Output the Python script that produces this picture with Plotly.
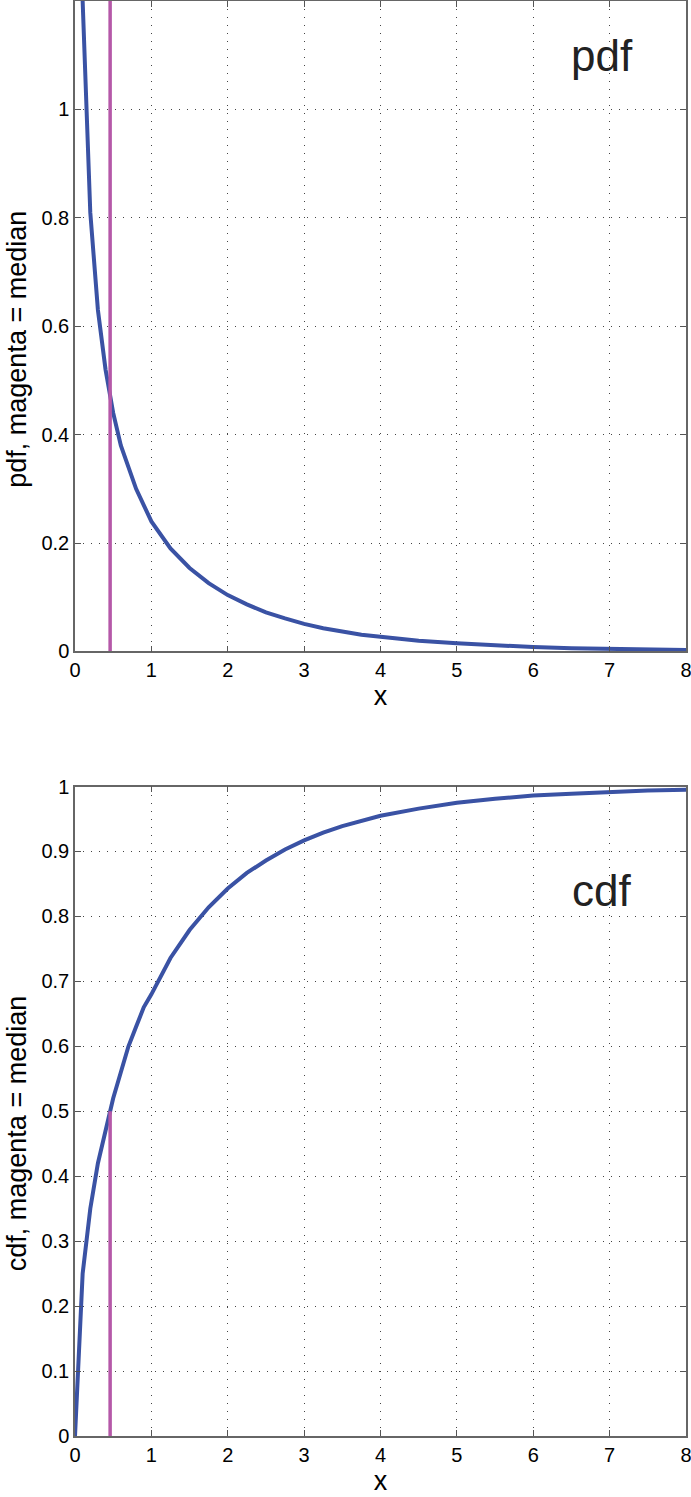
import plotly.graph_objects as go
from plotly.subplots import make_subplots

# values
pdf_x = [0.1, 0.2, 0.3, 0.4, 0.5, 0.6, 0.7, 0.8, 0.9, 1.0, 1.25, 1.5, 1.75, 2.0,
         2.25, 2.5, 2.75, 3.0, 3.25, 3.5, 3.75, 4.0, 4.5, 5.0, 5.5, 6.0, 6.5, 7.0, 7.5, 8.0]
pdf_y = [1.20, 0.81, 0.63, 0.52, 0.44, 0.38, 0.34, 0.30, 0.27, 0.24, 0.19, 0.154, 0.126, 0.104,
         0.087, 0.072, 0.061, 0.051, 0.043, 0.037, 0.031, 0.027, 0.020, 0.015, 0.011, 0.0081,
         0.006, 0.0045, 0.0034, 0.0026]

cdf_x = [0.0, 0.1, 0.2, 0.3, 0.4, 0.5, 0.6, 0.7, 0.8, 0.9, 1.0, 1.25, 1.5, 1.75, 2.0,
         2.25, 2.5, 2.75, 3.0, 3.25, 3.5, 3.75, 4.0, 4.5, 5.0, 5.5, 6.0, 6.5, 7.0, 7.5, 8.0]
cdf_y = [0.0, 0.25, 0.35, 0.42, 0.47, 0.52, 0.56, 0.60, 0.63, 0.66, 0.68, 0.736, 0.779, 0.814, 0.843,
         0.867, 0.886, 0.903, 0.917, 0.929, 0.939, 0.947, 0.955, 0.966, 0.975, 0.981, 0.986,
         0.989, 0.992, 0.994, 0.995]

median = 0.46
median_cdf = 0.5
pdf_top = 1.2

blue = 'rgb(58,82,164)'
magenta = 'rgb(181,88,168)'
font = 'Liberation Sans, Arial, sans-serif'

fig = make_subplots(rows=2, cols=1, vertical_spacing=0.094)

fig.add_trace(go.Scatter(x=pdf_x, y=pdf_y, mode='lines',
                         line=dict(color=blue, width=4)), row=1, col=1)
fig.add_trace(go.Scatter(x=[median, median], y=[0, pdf_top], mode='lines',
                         line=dict(color=magenta, width=3.5)), row=1, col=1)
fig.add_trace(go.Scatter(x=cdf_x, y=cdf_y, mode='lines',
                         line=dict(color=blue, width=4)), row=2, col=1)
fig.add_trace(go.Scatter(x=[median, median], y=[0, median_cdf], mode='lines',
                         line=dict(color=magenta, width=3.5)), row=2, col=1)

axis_style = dict(showline=True, linecolor='#666', linewidth=1.5, mirror='allticks',
                  ticks='inside', ticklen=6, tickcolor='#555', tickwidth=1,
                  showgrid=True, gridcolor='#444', griddash='1px,7px', gridwidth=1,
                  zeroline=False, automargin=False, ticklabeloverflow='allow',
                  tickfont=dict(size=20, color='black', family=font),
                  title_font=dict(size=27, color='black', family=font))

fig.update_xaxes(range=[0, 8], dtick=1, title_text='x', title_standoff=6, **axis_style)
fig.update_yaxes(range=[0, 1.2], tickvals=[0, 0.2, 0.4, 0.6, 0.8, 1],
                 ticktext=['0', '0.2', '0.4', '0.6', '0.8', '1'],
                 row=1, col=1, **axis_style)
fig.update_yaxes(range=[0, 1],
                 tickvals=[0, 0.1, 0.2, 0.3, 0.4, 0.5, 0.6, 0.7, 0.8, 0.9, 1],
                 ticktext=['0', '0.1', '0.2', '0.3', '0.4', '0.5', '0.6', '0.7', '0.8', '0.9', '1'],
                 row=2, col=1, **axis_style)

fig.update_layout(xaxis=dict(domain=[0, 1]), yaxis=dict(domain=[0.5467, 1]),
                  yaxis2=dict(domain=[0, 0.4526]))

# y-axis titles sit a little below the axis centre in the reference
ytitle_font = dict(size=27, color='black', family=font)
fig.add_annotation(x=0, y=0.757, xref='paper', yref='paper', xshift=-58,
                   text='pdf, magenta = median', textangle=-90, showarrow=False,
                   xanchor='center', yanchor='middle', font=ytitle_font)
fig.add_annotation(x=0, y=0.2103, xref='paper', yref='paper', xshift=-58,
                   text='cdf, magenta = median', textangle=-90, showarrow=False,
                   xanchor='center', yanchor='middle', font=ytitle_font)

fig.add_annotation(x=6.9, y=1.10, xref='x', yref='y', text='pdf', showarrow=False,
                   font=dict(size=44, color='#222', family=font))
fig.add_annotation(x=6.9, y=0.84, xref='x2', yref='y2', text='cdf', showarrow=False,
                   font=dict(size=44, color='#222', family=font))

fig.update_layout(width=691, height=1497, showlegend=False,
                  plot_bgcolor='white', paper_bgcolor='white',
                  margin=dict(l=75, r=5, t=1, b=61))

fig.write_html("out.html", config={'displayModeBar': False},
               post_script="document.body.style.margin='0';")
